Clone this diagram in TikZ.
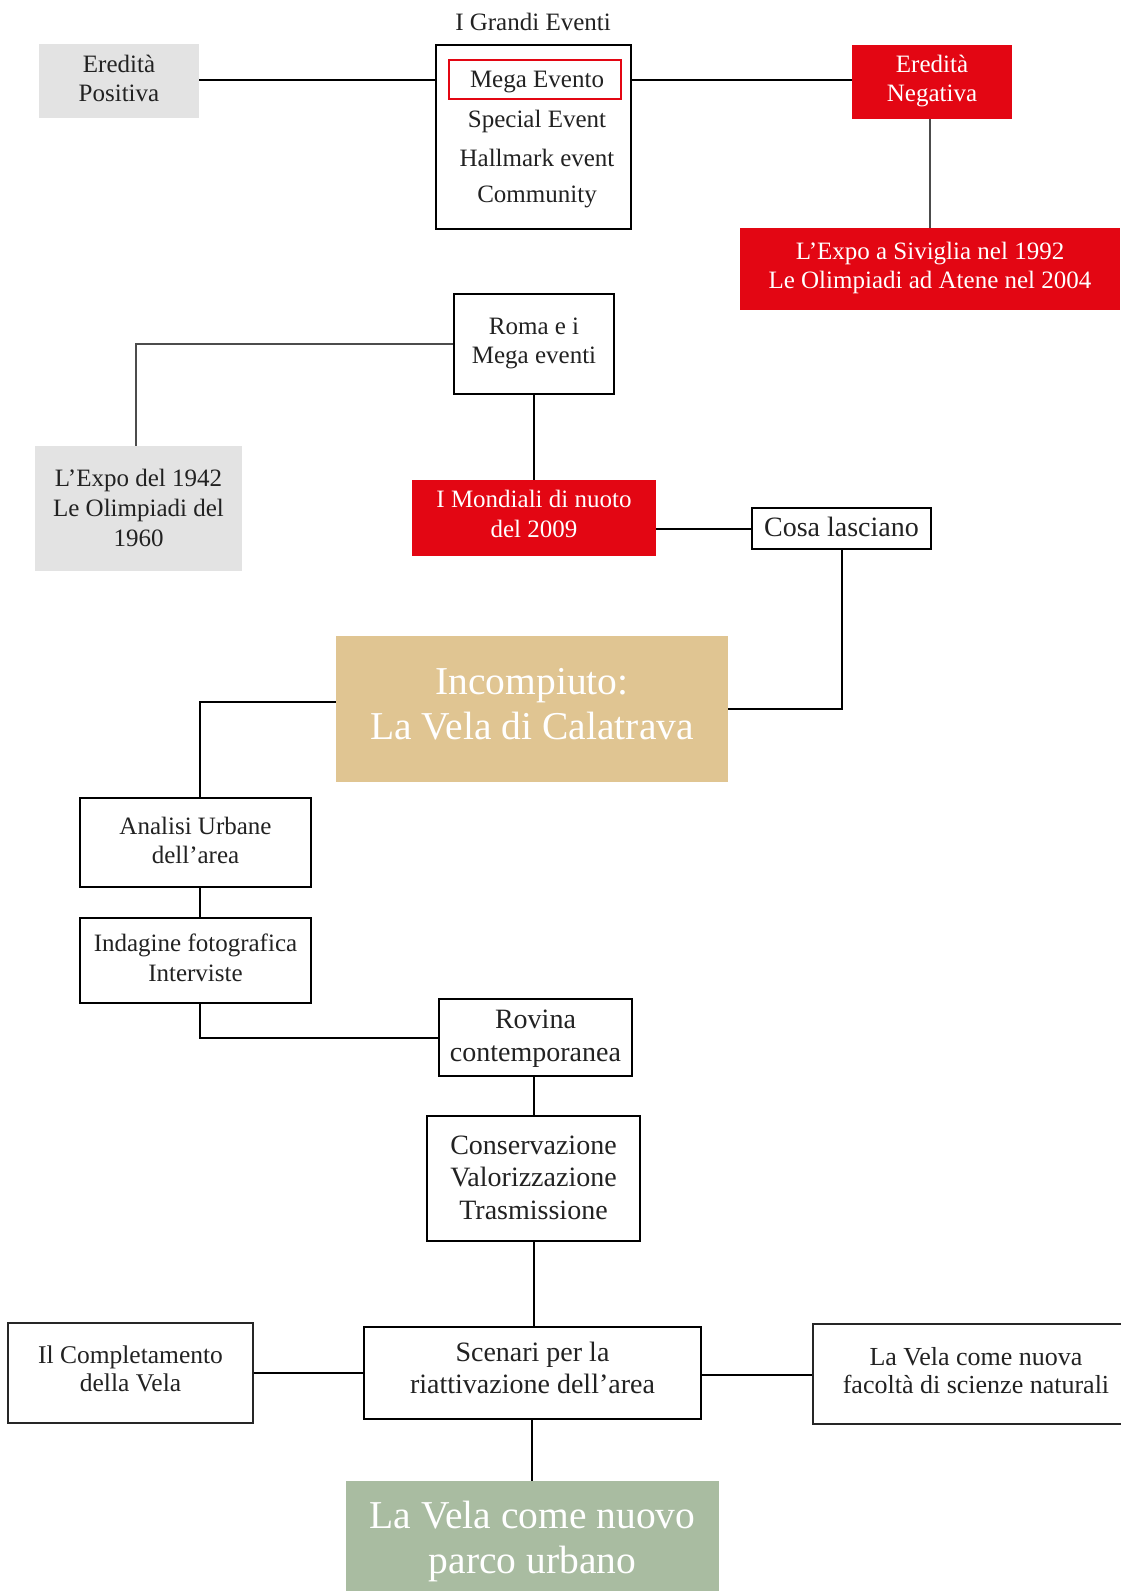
\documentclass[tikz,border=0pt]{standalone}
\usepackage{fontspec}
\setmainfont{Liberation Serif}
\definecolor{rossoA}{HTML}{E30613}
\definecolor{grigioA}{HTML}{E3E3E3}
\definecolor{ocraA}{HTML}{E0C592}
\definecolor{verdeA}{HTML}{A9BCA1}
\definecolor{testoA}{HTML}{222222}
\tikzset{
  base/.style={inner sep=0pt, align=center, text=testoA},
  normal/.style={font=\fontsize{25}{29}\selectfont},
  medio/.style={font=\fontsize{28}{33}\selectfont},
  grande/.style={font=\fontsize{39.5}{45}\selectfont},
  grayfill/.style={base, fill=grigioA},
  redfill/.style={base, fill=rossoA},
  boxthick/.style={base, draw=black, line width=2pt},
  boxthin/.style={base, draw=black!85, line width=1.2pt},
  wtext/.style={base, text=white},
  linkthin/.style={draw=black, line width=1.3pt},
  linkgray/.style={draw=black!70, line width=1.2pt},
  linkthick/.style={draw=black, line width=2pt},
}
\begin{document}
\begin{tikzpicture}[x=1pt,y=-1pt]
\useasboundingbox (0,0) rectangle (1120,1591);
\fill[white] (0,0) rectangle (1120,1591);

% top section
\node[base, normal] (title) at (533,22) {I Grandi Eventi};
\node[grayfill, minimum width=160, minimum height=74] (pos) at (119,81) {};
\node[base, normal, yshift=3pt] (posT) at (pos) {Eredità\\Positiva};
\node[boxthick, minimum width=195, minimum height=184] (grandi) at (533.5,137) {};
\node[base, draw=rossoA, line width=1.3pt, minimum width=172, minimum height=39] (mega) at (535,79.5) {};
\node[base, normal] (megaT) at (537,82.5) {Mega Evento};
\node[base, normal] (special) at (537,121) {Special Event};
\node[base, normal] (hall) at (537,158) {Hallmark event};
\node[base, normal] (comm) at (537,197) {Community};
\node[redfill, minimum width=160, minimum height=74] (neg) at (932,82) {};
\node[wtext, normal, yshift=1pt] (negT) at (neg) {Eredità\\Negativa};
\node[redfill, minimum width=380, minimum height=82] (siv) at (930,269) {};
\node[wtext, normal, yshift=1.5pt] (sivT) at (siv) {L’Expo a Siviglia nel 1992\\Le Olimpiadi ad Atene nel 2004};

\draw[linkthin] (pos.east |- 0,80) -- (grandi.west |- 0,80);
\draw[linkthin] (grandi.east |- 0,80) -- (neg.west |- 0,80);
\draw[linkgray] (neg.south -| 930,0) -- (siv.north -| 930,0);

% Roma
\node[boxthick, minimum width=160, minimum height=100] (roma) at (534,344) {};
\node[base, normal, yshift=1pt] (romaT) at (roma) {Roma e i\\Mega eventi};
\node[grayfill, minimum width=207, minimum height=125] (exp42) at (138.5,508.5) {};
\node[base, font=\fontsize{25}{30}\selectfont, yshift=1pt] (exp42T) at (exp42) {L’Expo del 1942\\Le Olimpiadi del\\1960};
\node[redfill, minimum width=244, minimum height=76] (mond) at (534,518) {};
\node[wtext, font=\fontsize{25}{30}\selectfont, yshift=4.5pt] (mondT) at (mond) {I Mondiali di nuoto\\del 2009};
\node[boxthick, minimum width=179, minimum height=41] (cosa) at (841.5,528.5) {};
\node[base, medio, yshift=2pt] (cosaT) at (cosa) {Cosa lasciano};
\node[base, fill=ocraA, minimum width=392, minimum height=146] (inc) at (532,709) {};
\node[wtext, grande, yshift=4.5pt] (incT) at (inc) {Incompiuto:\\La Vela di Calatrava};

\draw[linkgray] (roma.west) -| (exp42.north -| 136,0);
\draw[linkthick] (roma.south) -- (mond.north -| roma.south);
\draw[draw=black, line width=2.6pt] (mond.east |- 0,529) -- (cosa.west |- 0,529);
\draw[linkthick] (cosa.south) |- (inc.east);

% analysis chain
\node[boxthick, minimum width=231, minimum height=89] (anal) at (195.5,842.5) {};
\node[base, normal, yshift=2.5pt] (analT) at (anal) {Analisi Urbane\\dell’area};
\node[boxthick, minimum width=231, minimum height=85] (inda) at (195.5,960.5) {};
\node[base, font=\fontsize{25}{30}\selectfont, yshift=3pt] (indaT) at (inda) {Indagine fotografica\\Interviste};
\node[boxthick, minimum width=193, minimum height=77] (rov) at (535.5,1037.5) {};
\node[base, medio, yshift=-1pt] (rovT) at (rov) {Rovina\\contemporanea};
\node[boxthick, minimum width=213, minimum height=125] (cons) at (533.5,1178.5) {};
\node[base, font=\fontsize{28}{32.5}\selectfont, yshift=1pt] (consT) at (cons) {Conservazione\\Valorizzazione\\Trasmissione};

\draw[linkthick] (inc.west |- 0,702) -| (anal.north -| 200,0);
\draw[linkthick] (anal.south -| 200,0) -- (inda.north -| 200,0);
\draw[linkthick] (inda.south -| 200,0) |- (rov.west |- 0,1038);
\draw[linkthick] (rov.south -| 534,0) -- (cons.north -| 534,0);

% scenarios
\node[boxthin, minimum width=245, minimum height=100] (compl) at (130.5,1373) {};
\node[base, font=\fontsize{25.5}{27.5}\selectfont, yshift=4pt] (complT) at (compl) {Il Completamento\\della Vela};
\node[boxthick, minimum width=337, minimum height=92] (scen) at (532.5,1373) {};
\node[base, font=\fontsize{28}{32}\selectfont, yshift=5pt] (scenT) at (scen) {Scenari per la\\riattivazione dell’area};
\node[boxthin, minimum width=317, minimum height=100] (fac) at (971.5,1374) {};
\node[base, font=\fontsize{26}{28}\selectfont, yshift=3.5pt] (facT) at (976,1374) {La Vela come nuova\\facoltà di scienze naturali};
\node[base, fill=verdeA, minimum width=373, minimum height=112] (verde) at (532.5,1537) {};
\node[wtext, grande, yshift=-4.5pt] (verdeT) at (verde) {La Vela come nuovo\\parco urbano};

\draw[linkthick] (cons.south -| 534,0) -- (scen.north -| 534,0);
\draw[linkthin] (compl.east) -- (scen.west |- compl.east);
\draw[linkthin] (scen.east |- 0,1375) -- (fac.west |- 0,1375);
\draw[linkthick] (scen.south -| 532,0) -- (verde.north -| 532,0);
\end{tikzpicture}
\end{document}
